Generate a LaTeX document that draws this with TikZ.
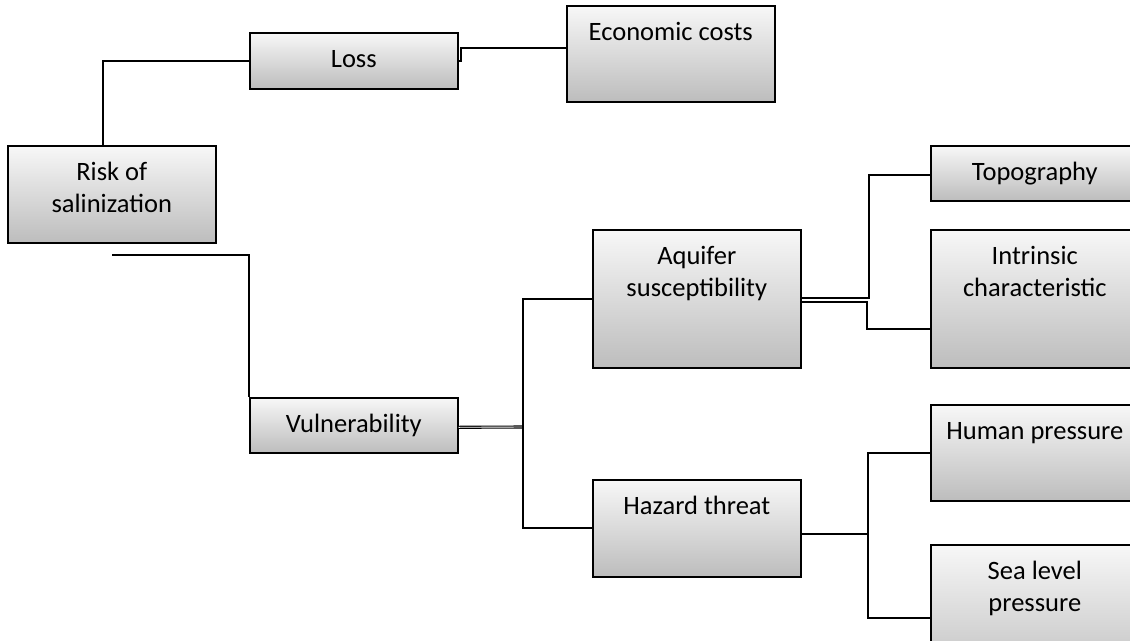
\documentclass[tikz,border=0pt]{standalone}
\usepackage{fontspec}
\setmainfont{Carlito}
\begin{document}
\begin{tikzpicture}[x=1pt,y=-1pt,
  box/.style={draw=black, line width=1.6pt, top color=black!3, bottom color=black!26,
    inner xsep=0pt, inner ysep=0pt, minimum width=208pt, align=center,
    text height=35pt, anchor=north west, font=\fontsize{26.5}{32}\selectfont},
  twoline/.style={text height=67pt},
  link/.style={line width=1.8pt}]
\useasboundingbox (0,0) rectangle (1130,640);
\node[box, text depth=21pt]  (loss)  at (249,32)  {Loss};
\node[box, text depth=61pt]  (econ)  at (566,5)   {Economic costs};
\node[box, twoline, text depth=30pt]  (risk)  at (7,145)   {Risk of\\salinization};
\node[box, text depth=20pt]  (vuln)  at (249,397) {Vulnerability};
\node[box, twoline, text depth=71pt] (aqui)  at (592,229) {Aquifer\\susceptibility};
\node[box, text depth=62pt]  (haz)   at (592,479) {Hazard threat};
\node[box, text depth=20pt]  (topo)  at (930,145) {Topography};
\node[box, twoline, text depth=71pt] (intr)  at (930,229) {Intrinsic\\characteristic};
\node[box, text depth=61pt]  (human) at (930,404) {Human pressure};
\node[box, twoline, text depth=75pt] (sea)   at (930,544) {Sea level\\pressure};

\draw[link] ([xshift=-9pt]risk.north) |- (loss.west);
\draw[link] (loss.east) -- ++(2,0) |- ([yshift=6pt]econ.west);
\coordinate (riskout) at (112,255);
\draw[link] (riskout) -| (vuln.north west);
\coordinate (vj) at (523,427);
\draw[line width=1.1pt, double, double distance=0.9pt] ([yshift=-2pt]vuln.east) -- (vj);
\draw[link] (vj) |- (aqui.west);
\draw[link] (vj) |- (haz.west);
\draw[link] ([yshift=1pt]aqui.east) -- ++(67,0) |- ([yshift=-1.5pt]topo.west);
\draw[link] ([yshift=-3pt]aqui.east) -- ++(65,0) |- ([yshift=-30pt]intr.west);
\draw[link] ([yshift=-5.5pt]haz.east) -- ++(66,0) coordinate (hj);
\draw[link] (hj) |- (human.west);
\draw[link] (hj) |- ([yshift=-2pt]sea.west);
\end{tikzpicture}
\end{document}
